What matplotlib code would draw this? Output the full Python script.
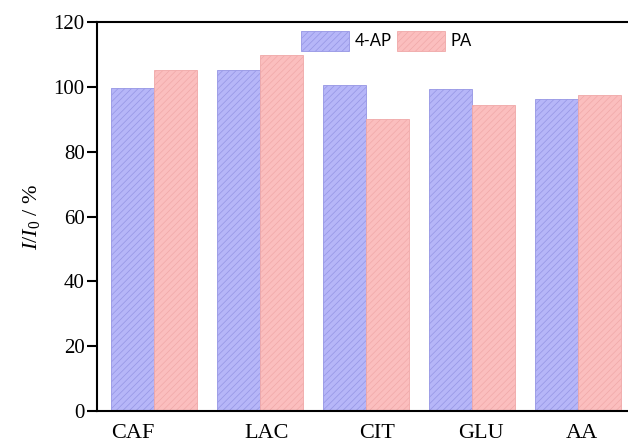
import matplotlib
matplotlib.use('Agg')
import matplotlib.pyplot as plt
import numpy as np

categories = ['CAF', 'LAC', 'CIT', 'GLU', 'AA']
ap_values = [99.8, 105.2, 100.6, 99.4, 96.2]
pa_values = [105.3, 109.8, 90.0, 94.4, 97.4]
series_names = ['4-AP', 'PA']

plt.rcParams['font.family'] = ['Liberation Serif', 'DejaVu Serif']
plt.rcParams['hatch.linewidth'] = 0.5
plt.rcParams['mathtext.fontset'] = 'custom'
plt.rcParams['mathtext.it'] = 'Liberation Serif:italic'
plt.rcParams['mathtext.rm'] = 'Liberation Serif'

fig = plt.figure(figsize=(6.28, 4.42), dpi=100)
ax = fig.add_axes([0.1545, 0.070, 0.8455, 0.880])

x = np.arange(len(categories))
w = 0.405
ax.bar(x - w / 2, ap_values, w, facecolor='#b6b6f8', edgecolor='#9595e4',
       hatch='/////', linewidth=0.6, label=series_names[0])
ax.bar(x + w / 2, pa_values, w, facecolor='#fbbebe', edgecolor='#f0a8a8',
       hatch='/////', linewidth=0.6, label=series_names[1])

ax.set_xlim(-0.538, 4.472)
ax.set_ylim(0, 120)
ax.set_yticks(np.arange(0, 121, 20))
ax.tick_params(axis='y', direction='out', length=7, width=1.5, labelsize=15, pad=2)
ax.tick_params(axis='x', length=0, labelsize=16, pad=9)

# label offsets as in the original figure
label_shift = [-0.2, 0.06, 0.1, 0.08, 0.04]
ax.set_xticks(x + np.array(label_shift))
ax.set_xticklabels(categories)

for s in ['left', 'bottom', 'top']:
    ax.spines[s].set_linewidth(1.5)
ax.spines['right'].set_visible(False)

ax.set_ylabel(r'$I$/$I_0$ / %', fontsize=16, labelpad=8)

ax.legend(loc='upper center', bbox_to_anchor=(0.545, 1.015), ncol=2, frameon=False,
          handlelength=2.9, handleheight=1.4, columnspacing=0.3,
          handletextpad=0.35, prop={'family': 'Lato', 'size': 12})

fig.savefig('out.png', dpi=100, facecolor='white')
